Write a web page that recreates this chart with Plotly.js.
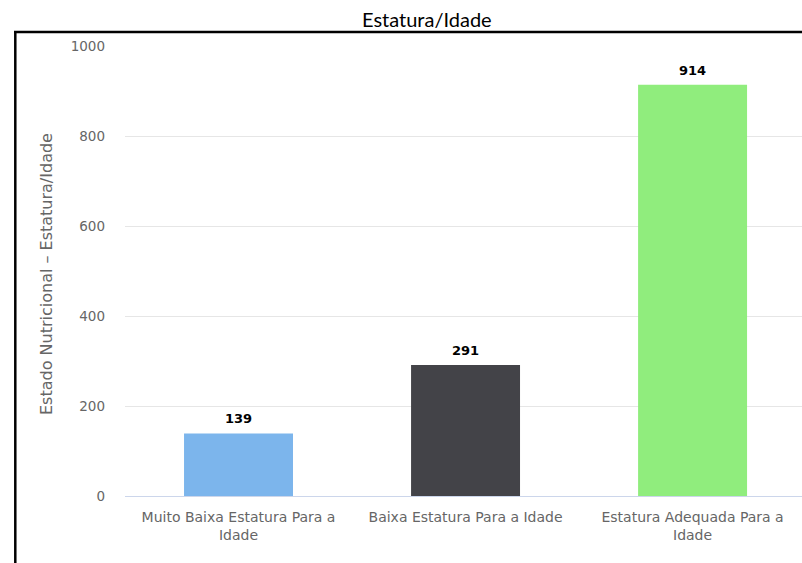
<!DOCTYPE html>
<html>
<head>
<meta charset="utf-8">
<script src="https://cdn.plot.ly/plotly-3.0.1.min.js"></script>
<style>
  html, body { margin: 0; padding: 0; background: #ffffff; }
  #chart { width: 802px; height: 563px; }
</style>
</head>
<body>
<div id="chart"></div>
<script>
const categories = [
  "Muito Baixa Estatura Para a Idade",
  "Baixa Estatura Para a Idade",
  "Estatura Adequada Para a Idade"
];
const tickLabels = [
  "Muito Baixa Estatura Para a<br>Idade",
  "Baixa Estatura Para a Idade",
  "Estatura Adequada Para a<br>Idade"
];
const values = [139, 291, 914];
const barColors = ["#7cb5ec", "#434348", "#90ed7d"];
const yTicks = [0, 200, 400, 600, 800, 1000];
const chartTitle = "Estatura/Idade";
const yTitle = "Estado Nutricional – Estatura/Idade";

const L = 125, R = 0, T = 46, B = 67, W = 802, H = 563;
const pw = W - L - R, ph = H - T - B;
const px = v => (v - L) / pw;
const py = v => (H - B - v) / ph;

const trace = {
  type: "bar",
  x: categories,
  y: values,
  width: 0.48,
  marker: { color: barColors, line: { width: 0 } },
  hoverinfo: "none"
};

const valueLabels = categories.map((c, i) => ({
  x: c, y: values[i], xref: "x", yref: "y",
  text: "<b>" + values[i] + "</b>",
  showarrow: false, yanchor: "bottom", yshift: 5,
  font: { family: "DejaVu Sans", size: 13, color: "#000000" }
}));

const layout = {
  width: W, height: H,
  margin: { l: L, r: R, t: T, b: B, pad: 0 },
  paper_bgcolor: "#ffffff",
  plot_bgcolor: "#ffffff",
  showlegend: false,
  bargap: 0.52,
  xaxis: {
    type: "category",
    range: [-0.5, 2.482],
    tickvals: categories,
    ticktext: tickLabels,
    showgrid: false,
    zeroline: false,
    showline: true,
    linecolor: "#ccd6eb",
    linewidth: 1,
    ticks: "",
    ticklabelstandoff: 8,
    tickfont: { family: "DejaVu Sans", size: 14, color: "#666666" },
    fixedrange: true
  },
  yaxis: {
    range: [0, 1000],
    tickvals: yTicks,
    showgrid: true,
    gridcolor: "#e6e6e6",
    gridwidth: 1,
    zeroline: false,
    showline: false,
    ticks: "",
    ticklabelstandoff: 19,
    tickfont: { family: "DejaVu Sans", size: 13.5, color: "#666666" },
    fixedrange: true
  },
  shapes: [
    { type: "line", xref: "paper", yref: "paper",
      x0: px(14), x1: px(802), y0: py(32), y1: py(32),
      line: { color: "#000000", width: 2.5 } },
    { type: "line", xref: "paper", yref: "paper",
      x0: px(15.3), x1: px(15.3), y0: py(32), y1: py(570),
      line: { color: "#000000", width: 2.5 } }
  ],
  annotations: [
    { text: chartTitle, xref: "paper", yref: "paper",
      x: px(427), y: py(19), xanchor: "center", yanchor: "middle",
      showarrow: false, font: { family: "Lato", size: 20, color: "#000000" } },
    { text: yTitle, xref: "paper", yref: "paper",
      x: px(46), y: py(274), xanchor: "center", yanchor: "middle",
      textangle: -90, showarrow: false,
      font: { family: "DejaVu Sans", size: 16, color: "#666666" } }
  ].concat(valueLabels)
};

Plotly.newPlot("chart", [trace], layout, { displayModeBar: false, staticPlot: true });
</script>
</body>
</html>
